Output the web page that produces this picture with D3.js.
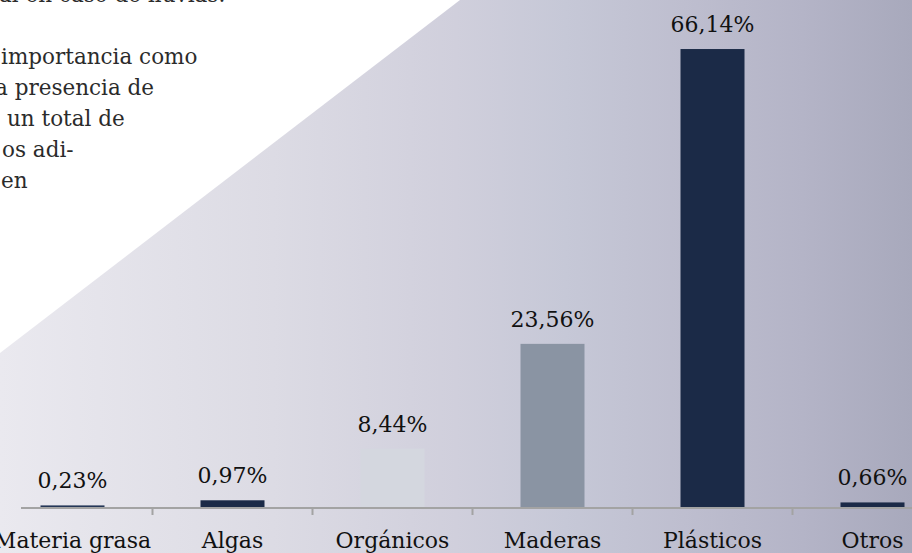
<!DOCTYPE html>
<html>
<head>
<meta charset="utf-8">
<script src="https://cdn.jsdelivr.net/npm/d3@7"></script>
<style>
  body { margin: 0; background: #fff; }
  svg { display: block; }
</style>
</head>
<body>
<div id="chart"></div>
<script>
var categories = ['Materia grasa', 'Algas', 'Orgánicos', 'Maderas', 'Plásticos', 'Otros'];
var values = [0.23, 0.97, 8.44, 23.56, 66.14, 0.66];
var valueLabels = ['0,23%', '0,97%', '8,44%', '23,56%', '66,14%', '0,66%'];
var barColors = ['#243657', '#1b2a47', '#d4d7df', '#8a94a3', '#1b2a47', '#1b2a47'];
var textLines = ['al en caso de lluvias.', '', 'importancia como', 'a presencia de', 'un total de', 'os adi-', 'en'];
var textOffsets = [-1, 0, 1, -5, 7, 2, 1];

var width = 912, height = 553;

var svg = d3.select('#chart').append('svg')
    .attr('width', width)
    .attr('height', height);

var defs = svg.append('defs');
var grad = defs.append('linearGradient')
    .attr('id', 'bg')
    .attr('x1', '0%').attr('x2', '100%')
    .attr('y1', '0%').attr('y2', '0%');
[['0%', '#eae9ef'], ['30%', '#dcdbe4'], ['50%', '#d0cfdc'], ['62%', '#c6c8d7'], ['75%', '#bebecf'], ['88%', '#b4b4c7'], ['100%', '#a8a9bc']]
  .forEach(function(s){
    grad.append('stop').attr('offset', s[0]).attr('stop-color', s[1]);
  });

// white page with the shaded panel cut diagonally
svg.append('rect').attr('width', width).attr('height', height).attr('fill', '#fff');
svg.append('polygon')
    .attr('points', [[0, 353], [460, 0], [width, 0], [width, height], [0, height]].join(' '))
    .attr('fill', 'url(#bg)');

// paragraph fragment top left
svg.append('g').selectAll('text')
    .data(textLines)
    .enter().append('text')
    .attr('x', function(d, i){ return textOffsets[i]; })
    .attr('y', function(d, i){ return 2 + i * 31; })
    .attr('font-family', 'DejaVu Serif')
    .attr('font-size', 21.5)
    .attr('fill', '#2b2b2b')
    .text(function(d){ return d; });

var x = d3.scaleBand()
    .domain(categories)
    .range([-7.5, 952.5])
    .paddingInner(0.6)
    .paddingOuter(0.3);

var y = d3.scaleLinear()
    .domain([0, 70])
    .range([507, 22.3]);

var bars = svg.append('g');
bars.selectAll('rect')
    .data(values)
    .enter().append('rect')
    .attr('x', function(d, i){ return x(categories[i]); })
    .attr('width', x.bandwidth())
    .attr('y', function(d){ return y(d); })
    .attr('height', function(d){ return y(0) - y(d); })
    .attr('fill', function(d, i){ return barColors[i]; });

bars.selectAll('text')
    .data(values)
    .enter().append('text')
    .attr('x', function(d, i){ return x(categories[i]) + x.bandwidth() / 2; })
    .attr('y', function(d){ return y(d) - 17; })
    .attr('text-anchor', 'middle')
    .attr('font-family', 'DejaVu Serif')
    .attr('font-size', 22)
    .attr('fill', '#111')
    .text(function(d, i){ return valueLabels[i]; });

// x axis with ticks between categories
var axis = svg.append('g');
axis.append('line')
    .attr('x1', 21).attr('x2', width)
    .attr('y1', y(0) + 1).attr('y2', y(0) + 1)
    .attr('stroke', '#a3a3a3')
    .attr('stroke-width', 2);

var step = x.step();
axis.selectAll('.tick')
    .data(categories.slice(1))
    .enter().append('line')
    .attr('class', 'tick')
    .attr('x1', function(d){ return x(d) + x.bandwidth() / 2 - step / 2; })
    .attr('x2', function(d){ return x(d) + x.bandwidth() / 2 - step / 2; })
    .attr('y1', y(0) + 1).attr('y2', y(0) + 8)
    .attr('stroke', '#a3a3a3')
    .attr('stroke-width', 2);

axis.selectAll('.cat')
    .data(categories)
    .enter().append('text')
    .attr('class', 'cat')
    .attr('x', function(d){ return x(d) + x.bandwidth() / 2; })
    .attr('y', 548)
    .attr('text-anchor', 'middle')
    .attr('font-family', 'DejaVu Serif')
    .attr('font-size', 22)
    .attr('fill', '#111')
    .text(function(d){ return d; });
</script>
</body>
</html>
